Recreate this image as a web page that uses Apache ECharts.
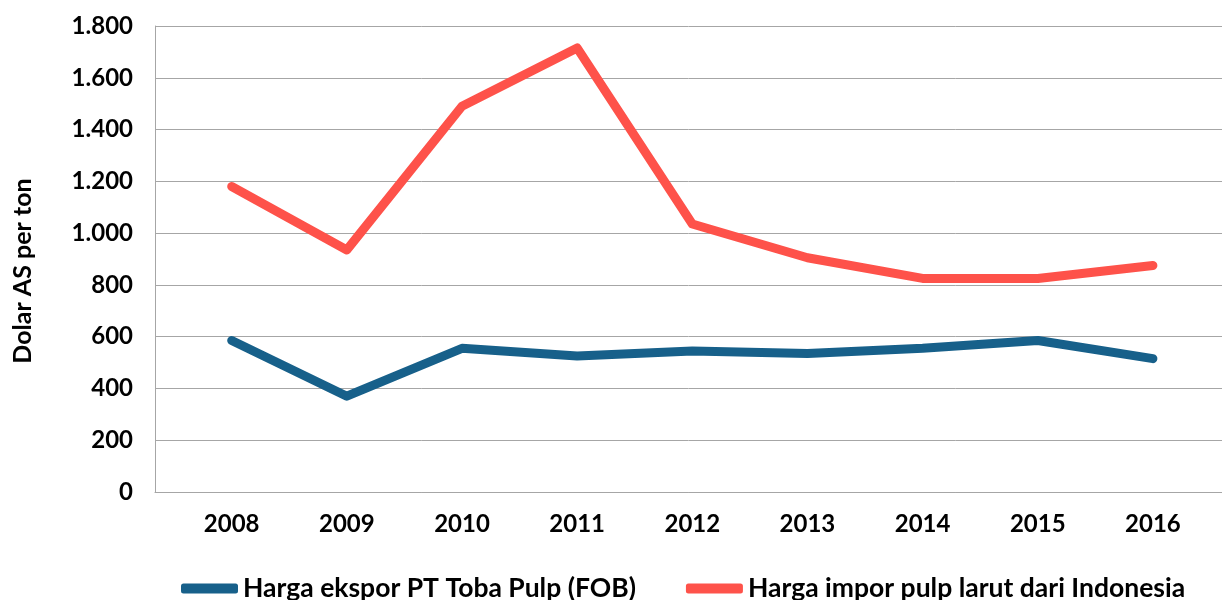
<!DOCTYPE html>
<html>
<head>
<meta charset="utf-8">
<script src="https://cdn.jsdelivr.net/npm/echarts@6/dist/echarts.min.js"></script>
<style>
html,body{margin:0;padding:0;background:#fff;}
#chart{width:1222px;height:600px;}
</style>
</head>
<body>
<div id="chart"></div>
<script>
var years = [2008, 2009, 2010, 2011, 2012, 2013, 2014, 2015, 2016];
var exportPrice = [585, 370, 555, 525, 545, 535, 555, 585, 515];
var importPrice = [1180, 935, 1490, 1715, 1035, 905, 825, 825, 875];
var seriesNames = ['Harga ekspor PT Toba Pulp (FOB)', 'Harga impor pulp larut dari Indonesia'];
var yTicks = [0, 200, 400, 600, 800, 1000, 1200, 1400, 1600, 1800];
var yAxisName = 'Dolar AS per ton';

function pairs(vals){ return years.map(function(y,i){ return [y, vals[i]]; }); }
var FONT = 'Lato';
var chart = echarts.init(document.getElementById('chart'));
chart.setOption({
  animation: false,
  backgroundColor: '#fff',
  grid: {left: 155, right: 0, top: 26, bottom: 108},
  legend: {
    left: 176, top: 570,
    itemWidth: 57, itemHeight: 10, itemGap: 50,
    icon: 'roundRect',
    textStyle: {fontFamily: FONT, fontWeight: 'bold', fontSize: 26.5, color: '#000', padding: [0,0,0,0]},
    data: seriesNames
  },
  xAxis: {
    type: 'value',
    min: 2007.334, max: 2016.6,
    axisLine: {show: true, onZero: false, lineStyle: {color: '#a6a6a6', width: 1}},
    axisTick: {show: false},
    splitLine: {show: false},
    axisLabel: {
      customValues: years,
      formatter: function(v){ return String(v); },
      fontFamily: FONT, fontWeight: 'bold', fontSize: 24, color: '#000', margin: 20
    }
  },
  yAxis: {
    type: 'value', min: yTicks[0], max: yTicks[yTicks.length-1], interval: 200,
    name: yAxisName, nameLocation: 'middle', nameGap: 120, nameRotate: 90,
    nameTextStyle: {fontFamily: FONT, fontWeight: 'bold', fontSize: 25, color: '#000', padding: [0, 24, 0, 0]},
    axisLine: {show: true, lineStyle: {color: '#a6a6a6', width: 1}},
    axisTick: {show: false},
    splitLine: {lineStyle: {color: '#a6a6a6', width: 1}},
    axisLabel: {
      formatter: function(v){ return String(v).replace(/\B(?=(\d{3})+(?!\d))/g, '.'); },
      fontFamily: FONT, fontWeight: 'bold', fontSize: 24, color: '#000', margin: 22
    }
  },
  series: [
    {name: seriesNames[0], type: 'line', data: pairs(exportPrice), showSymbol: false, symbol: 'none',
     color: '#17608a', lineStyle: {width: 9, color: '#17608a', cap: 'round', join: 'round'}},
    {name: seriesNames[1], type: 'line', data: pairs(importPrice), showSymbol: false, symbol: 'none',
     color: '#fe524a', lineStyle: {width: 9, color: '#fe524a', cap: 'round', join: 'round'}}
  ]
});
</script>
</body>
</html>
